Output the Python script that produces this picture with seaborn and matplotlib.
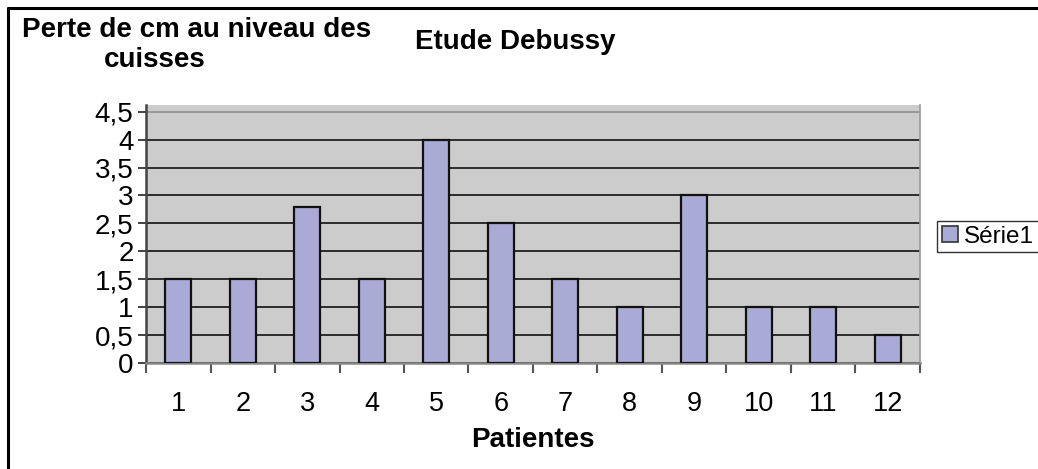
import matplotlib
matplotlib.use("Agg")
import matplotlib.pyplot as plt
from matplotlib.lines import Line2D
from matplotlib.patches import Patch
import seaborn as sns
import pandas as pd
import numpy as np

# ---- data ----
patientes = ["1", "2", "3", "4", "5", "6", "7", "8", "9", "10", "11", "12"]
perte_cm = [1.5, 1.5, 2.8, 1.5, 4.0, 2.5, 1.5, 1.0, 3.0, 1.0, 1.0, 0.5]
y_ticks = [0, 0.5, 1, 1.5, 2, 2.5, 3, 3.5, 4, 4.5]
y_tick_labels = ["0", "0,5", "1", "1,5", "2", "2,5", "3", "3,5", "4", "4,5"]
serie_name = "Série1"
title = "Etude Debussy"
ytitle_1 = "Perte de cm au niveau des"
ytitle_2 = "cuisses"
xtitle = "Patientes"

sns.set_style("white")
plt.rcParams["font.family"] = ["Liberation Sans", "DejaVu Sans"]
plt.rcParams["text.color"] = "black"
plt.rcParams["xtick.color"] = "black"
plt.rcParams["ytick.color"] = "black"
plt.rcParams["xtick.labelcolor"] = "black"
plt.rcParams["ytick.labelcolor"] = "black"

W, H = 1038, 469
fig = plt.figure(figsize=(W / 100, H / 100), dpi=100)
fig.patch.set_facecolor("white")

def fx(px):
    return px / W

def fy(py):
    return 1 - py / H

ax = fig.add_axes([fx(146), fy(363), fx(920) - fx(146), fy(105) - fy(363)])
ax.set_facecolor("#CCCCCC")

df = pd.DataFrame({"Patientes": patientes, "Perte": perte_cm})
sns.barplot(data=df, x="Patientes", y="Perte", color="#AAAAD6", saturation=1,
            width=0.4, edgecolor="#111111", linewidth=1.6, ax=ax, zorder=3)

ax.set_xlim(-0.5, len(patientes) - 0.5)
ax.set_ylim(0, 4.62)

# y axis
ax.set_yticks(y_ticks)
ax.set_yticklabels(y_tick_labels, fontsize=20)
ax.tick_params(axis="y", direction="out", length=6, width=1.2, color="#222222",
               pad=3, left=True)
ax.yaxis.grid(True, color="black", linewidth=1.1, zorder=1)
ax.set_axisbelow(True)
gl = ax.get_ygridlines()
if len(gl):
    gl[-1].set_color("#888888")

# x axis
ax.set_xticks(range(len(patientes)))
ax.set_xticklabels(patientes, fontsize=19.5)
ax.tick_params(axis="x", which="major", length=0, pad=20)
ax.set_xticks(np.arange(-0.5, len(patientes), 1.0), minor=True)
ax.tick_params(axis="x", which="minor", direction="out", length=7, width=1.5,
               color="#555555", bottom=True)
ax.set_xlabel("")
ax.set_ylabel("")

ax.spines["top"].set_visible(False)
ax.spines["left"].set_color("#444444")
ax.spines["left"].set_linewidth(1.8)
ax.spines["bottom"].set_color("#888888")
ax.spines["bottom"].set_linewidth(1.8)
ax.spines["right"].set_color("#999999")
ax.spines["right"].set_linewidth(1.2)

# titles
fig.text(fx(22), fy(37), ytitle_1, fontsize=20, fontweight="bold", ha="left",
         va="baseline")
fig.text(fx(104), fy(67), ytitle_2, fontsize=20, fontweight="bold", ha="left",
         va="baseline")
fig.text(fx(415), fy(49), title, fontsize=20, fontweight="bold", ha="left",
         va="baseline")
fig.text(fx(533), fy(447), xtitle, fontsize=20, fontweight="bold", ha="center",
         va="baseline")

# legend
handle = Patch(facecolor="#AAAAD6", edgecolor="#333333", linewidth=1.2)
leg = fig.legend([handle], [serie_name], loc="center left",
                 bbox_to_anchor=(fx(937), fy(236.5)), fontsize=17.5,
                 frameon=True, fancybox=False, borderpad=0.2,
                 handlelength=0.65, handleheight=0.65, handletextpad=0.25,
                 borderaxespad=0)
leg.get_frame().set_edgecolor("black")
leg.get_frame().set_linewidth(1.0)

# outer chart frame (left and top edges visible)
fig.add_artist(Line2D([fx(8), fx(8)], [fy(8), 0], transform=fig.transFigure,
                      color="black", linewidth=2.2))
fig.add_artist(Line2D([fx(8), 1], [fy(8), fy(8)], transform=fig.transFigure,
                      color="black", linewidth=2.2))

fig.savefig("out.png", dpi=100)
